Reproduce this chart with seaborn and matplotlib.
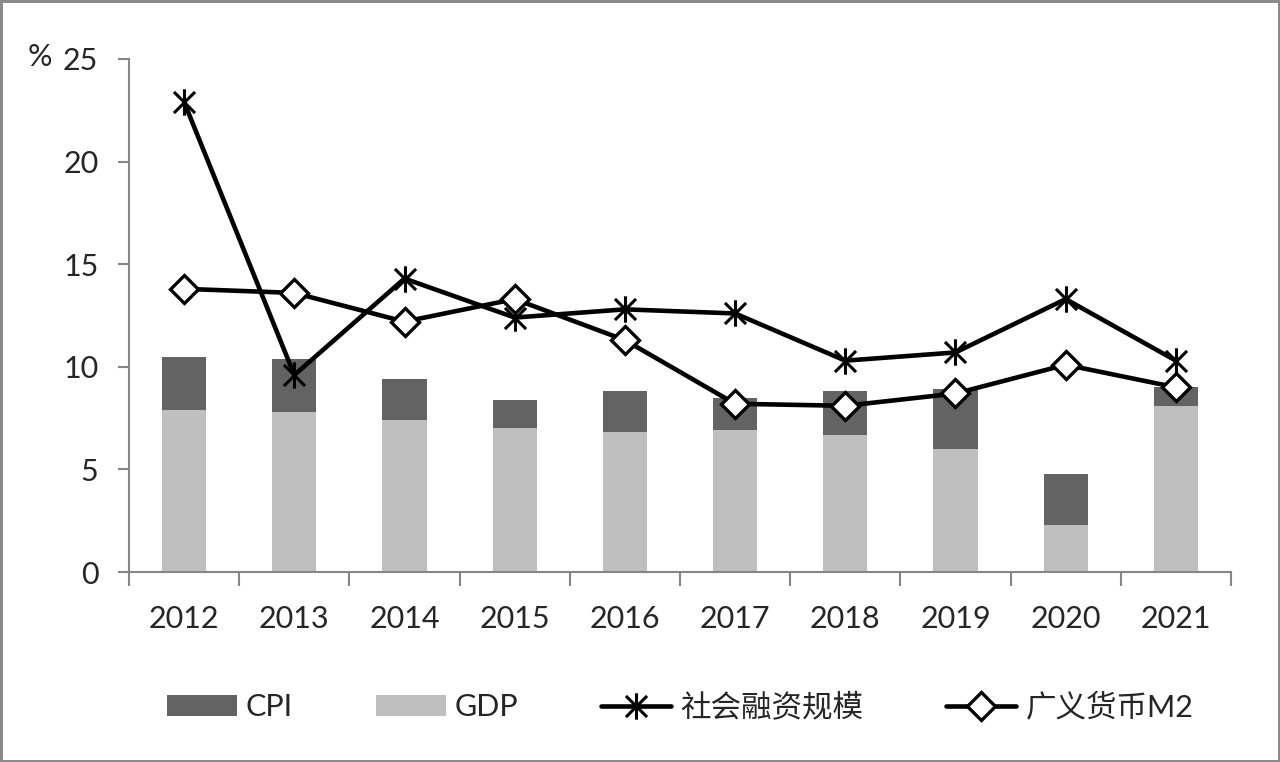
import numpy as np
import matplotlib
matplotlib.use("Agg")
import matplotlib.pyplot as plt
from matplotlib.path import Path
from matplotlib.patches import Patch
from matplotlib.lines import Line2D
import seaborn as sns

years = ["2012", "2013", "2014", "2015", "2016", "2017", "2018", "2019", "2020", "2021"]
gdp = [7.9, 7.8, 7.4, 7.0, 6.8, 6.9, 6.7, 6.0, 2.3, 8.1]
cpi = [2.6, 2.6, 2.0, 1.4, 2.0, 1.6, 2.1, 2.9, 2.5, 0.9]
tsf = [22.9, 9.6, 14.3, 12.4, 12.8, 12.6, 10.3, 10.7, 13.3, 10.3]
m2 = [13.8, 13.6, 12.2, 13.3, 11.3, 8.2, 8.1, 8.7, 10.1, 9.0]

sns.set_style("white")
plt.rcParams['font.family'] = ['Lato', 'Noto Sans CJK SC', 'DejaVu Sans']

dark = "#636363"
light = "#bfbfbf"
axis_grey = "#868686"

# asterisk marker: X plus a vertical stroke
star = Path([(-1, -1), (1, 1), (-1, 1), (1, -1), (0, -1.25), (0, 1.25)],
            [Path.MOVETO, Path.LINETO, Path.MOVETO, Path.LINETO, Path.MOVETO, Path.LINETO])
star_kw = dict(marker=star, markersize=19, markeredgewidth=2.2, markeredgecolor="black")
dia_kw = dict(marker="D", markersize=14, markerfacecolor="white",
              markeredgecolor="black", markeredgewidth=2.4)

fig = plt.figure(figsize=(12.8, 7.62), dpi=100, edgecolor="#8a8a8a", linewidth=2.5)
ax = fig.add_axes([0.1008, 0.2493, 0.8609, 0.6733])

total = [g + c for g, c in zip(gdp, cpi)]
sns.barplot(x=years, y=total, color=dark, width=0.4, saturation=1, linewidth=0, ax=ax)
sns.barplot(x=years, y=gdp, color=light, width=0.4, saturation=1, linewidth=0, ax=ax)

pos = np.arange(len(years))
sns.lineplot(x=pos, y=tsf, color="black", linewidth=3.3, ax=ax, **star_kw)
sns.lineplot(x=pos, y=m2, color="black", linewidth=3.3, ax=ax, **dia_kw)

ax.set_xlim(-0.5, 9.5)
ax.set_ylim(0, 25)
ax.set_yticks([0, 5, 10, 15, 20, 25])
ax.set_xticks(pos)
ax.set_xticklabels(years)
ax.set_xticks(np.arange(-0.5, 10, 1), minor=True)
ax.tick_params(axis="x", which="major", length=0, pad=24, labelsize=22)
ax.tick_params(axis="x", which="minor", length=10, width=1.5, color=axis_grey, direction="out")
ax.tick_params(axis="y", length=8, width=1.5, color=axis_grey, direction="out", labelsize=22, pad=14)
ax.tick_params(bottom=True, left=True, which="both")
ax.set_xlabel("")
ax.set_ylabel("")

for s in ["top", "right"]:
    ax.spines[s].set_visible(False)
for s in ["left", "bottom"]:
    ax.spines[s].set_color(axis_grey)
    ax.spines[s].set_linewidth(1.5)

fig.text(0.031, 0.925, "%", fontsize=22, va="center", ha="center")

handles = [
    Patch(facecolor=dark, edgecolor="none"),
    Patch(facecolor=light, edgecolor="none"),
    Line2D([], [], color="black", linewidth=3.3, **star_kw),
    Line2D([], [], color="black", linewidth=3.3, **dia_kw),
]
labels = ["CPI", "GDP", "社会融资规模", "广义货币M2"]
ax.legend(handles, labels, loc="center", bbox_to_anchor=(0.5, -0.263), ncol=4,
          frameon=False, fontsize=22, handlelength=2.3, handletextpad=0.3,
          columnspacing=2.7)

fig.savefig("out.png", dpi=100)
